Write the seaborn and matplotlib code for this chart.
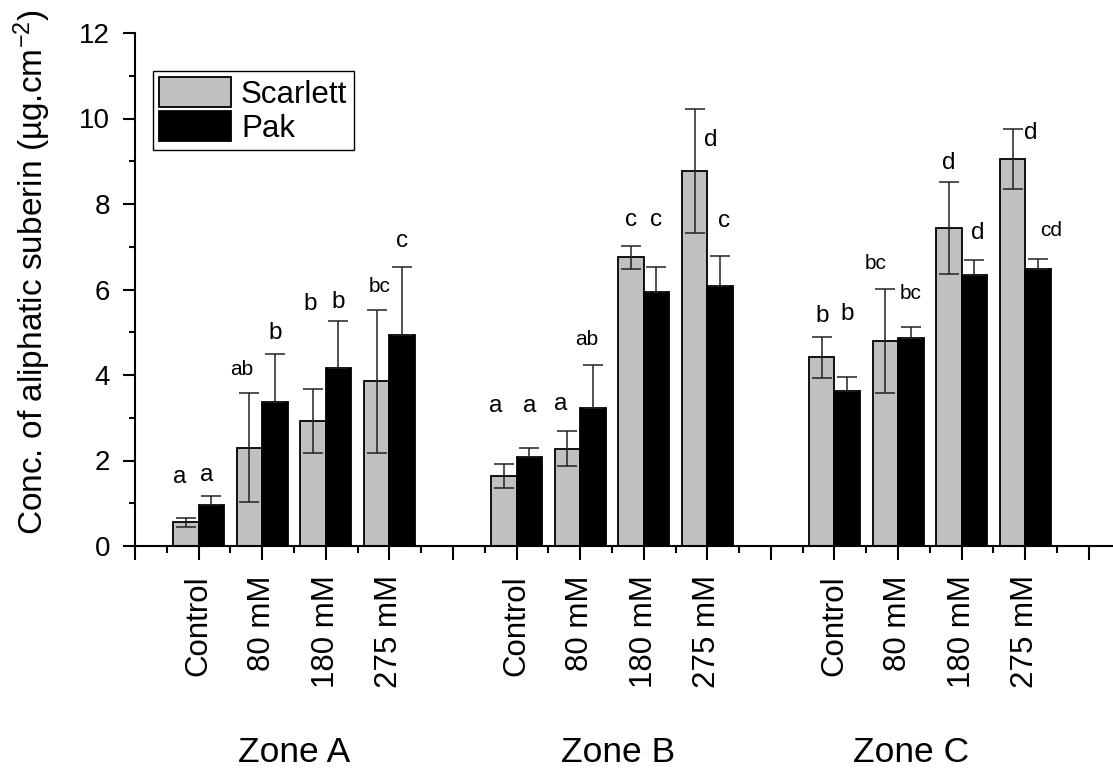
import numpy as np
import pandas as pd
import matplotlib
matplotlib.use("Agg")
import matplotlib.pyplot as plt
import matplotlib.transforms as mtransforms
from matplotlib.ticker import MultipleLocator, FixedLocator
import seaborn as sns

# ---------------- data ----------------
positions = [1, 2, 3, 4, 6, 7, 8, 9, 11, 12, 13, 14]
treatments = ["Control", "80 mM", "180 mM", "275 mM"] * 3
zones = ["Zone A", "Zone B", "Zone C"]
zone_centers = [2.5, 7.6, 12.2]
cultivars = ["Scarlett", "Pak"]

scarlett = [0.55, 2.30, 2.93, 3.85, 1.63, 2.28, 6.75, 8.77, 4.41, 4.80, 7.44, 9.05]
scarlett_err = [0.10, 1.27, 0.75, 1.68, 0.28, 0.42, 0.27, 1.46, 0.48, 1.22, 1.07, 0.70]
pak = [0.97, 3.37, 4.16, 4.94, 2.09, 3.23, 5.93, 6.08, 3.62, 4.87, 6.33, 6.49]
pak_err = [0.20, 1.11, 1.10, 1.59, 0.21, 1.00, 0.59, 0.70, 0.33, 0.26, 0.37, 0.23]

letters_s = ["a", "ab", "b", "bc", "a", "a", "c", "d", "b", "bc", "d", "d"]
letters_p = ["a", "b", "b", "c", "a", "ab", "c", "c", "b", "bc", "d", "cd"]
# annotation heights (data units) and small horizontal nudges
letter_y_s = [1.61, 4.14, 5.66, 6.08, 3.27, 3.31, 7.63, 9.50, 5.38, 6.61, 8.97, 9.65]
letter_y_p = [1.65, 4.99, 5.70, 7.14, 3.27, 4.82, 7.63, 7.60, 5.42, 5.91, 7.31, 7.39]
letter_dx_s = [-0.10, -0.12, -0.05, 0.05, -0.13, -0.10, 0.0, 0.26, 0.0, -0.15, 0.0, 0.29]
letter_dx_p = [-0.08, 0.0, 0.0, 0.0, 0.0, -0.10, 0.0, 0.06, 0.0, 0.0, 0.05, 0.20]

ylabel = "Conc. of aliphatic suberin (µg.cm$^{\\mathregular{-2}}$)"

# ---------------- style ----------------
sns.set_style("ticks")
plt.rcParams["font.family"] = ["Liberation Sans", "DejaVu Sans"]
plt.rcParams["mathtext.default"] = "regular"
for k in ["text.color", "axes.labelcolor", "xtick.color", "ytick.color", "axes.edgecolor"]:
    plt.rcParams[k] = "black"

df = pd.DataFrame({
    "pos": positions * 2,
    "cultivar": ["Scarlett"] * len(positions) + ["Pak"] * len(positions),
    "value": scarlett + pak,
})

fig = plt.figure(figsize=(11.13, 7.69), dpi=100)
ax = fig.add_axes([135 / 1113, 223 / 769, (1113 - 135) / 1113, 513 / 769])

sns.barplot(data=df, x="pos", y="value", hue="cultivar", hue_order=cultivars,
            native_scale=True, width=0.8, dodge=True, errorbar=None,
            palette={"Scarlett": "#c0c0c0", "Pak": "#000000"}, saturation=1,
            edgecolor="black", linewidth=1.3, ax=ax)

# error bars and letters, using bar geometry from seaborn's containers
series = [(scarlett_err, letters_s, letter_y_s, letter_dx_s, True),
          (pak_err, letters_p, letter_y_p, letter_dx_p, False)]
for cont, (errs, lets, ly, ldx, both) in zip(ax.containers, series):
    patches = sorted(cont.patches, key=lambda p: p.get_x())
    for i, p in enumerate(patches):
        xc = p.get_x() + p.get_width() / 2
        h = p.get_height()
        lower = errs[i] if both else 0.0
        ax.errorbar(xc, h, yerr=[[lower], [errs[i]]], fmt="none",
                    ecolor="#222222", elinewidth=1.1, capsize=7, capthick=1.1,
                    zorder=5)
        fs = 17.5 if len(lets[i]) == 1 else 15
        ax.text(xc + ldx[i], ly[i], lets[i], ha="center", va="center",
                fontsize=fs, color="black")

# axes formatting
ax.set_xlim(0, 15.38)
ax.set_ylim(0, 12)
ax.xaxis.set_major_locator(FixedLocator(list(range(0, 16))))
xt_labels = [""] * 16
for p, t in zip(positions, treatments):
    xt_labels[p] = t
ax.set_xticklabels(xt_labels, rotation=90, fontsize=22.5)
ax.xaxis.set_minor_locator(FixedLocator([i + 0.5 for i in range(0, 15)]))
ax.yaxis.set_major_locator(MultipleLocator(2))
ax.yaxis.set_minor_locator(MultipleLocator(1))
ax.tick_params(axis="y", which="major", length=9, width=1.5, labelsize=20, pad=9)
ax.tick_params(axis="y", which="minor", length=4.5, width=1.5)
ax.tick_params(axis="x", which="major", length=10, width=1.5, pad=11)
ax.tick_params(axis="x", which="minor", length=5, width=1.5)
for s in ["top", "right"]:
    ax.spines[s].set_visible(False)
for s in ["left", "bottom"]:
    ax.spines[s].set_linewidth(1.5)
ax.set_xlabel("")
ax.set_ylabel(ylabel, fontsize=24)
ax.yaxis.set_label_coords(-0.084, 0.534)

trans = mtransforms.blended_transform_factory(ax.transData, ax.transAxes)
for zc, zname in zip(zone_centers, zones):
    ax.text(zc, -0.403, zname, transform=trans, ha="center", va="center", fontsize=25.5)

handles, labels = ax.get_legend_handles_labels()
if ax.get_legend() is not None:
    ax.get_legend().remove()
leg = ax.legend(handles, labels, loc="upper left", bbox_to_anchor=(0.0184, 0.926),
                borderaxespad=0, fontsize=22.5, frameon=True, fancybox=False,
                framealpha=1, edgecolor="black", handlelength=2.3, handleheight=1.1,
                handletextpad=0.32, labelspacing=0.05, borderpad=0.2)
leg.get_frame().set_linewidth(1.0)

fig.savefig("out.png", dpi=100)
